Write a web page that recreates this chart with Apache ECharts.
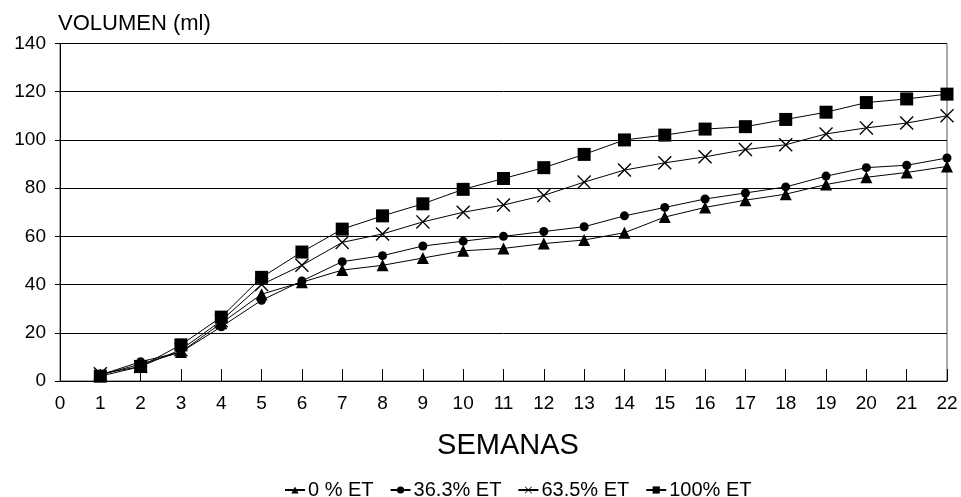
<!DOCTYPE html>
<html>
<head>
<meta charset="utf-8">
<script src="https://cdn.jsdelivr.net/npm/echarts@6/dist/echarts.min.js"></script>
<style>
  html, body { margin: 0; padding: 0; background: #fff; }
  #chart { width: 961px; height: 497px; }
</style>
</head>
<body>
<div id="chart"></div>
<script>
// Weeks of the trial
const weeks = [1, 2, 3, 4, 5, 6, 7, 8, 9, 10, 11, 12, 13, 14, 15, 16, 17, 18, 19, 20, 21, 22];

// Cumulative volume (ml) per irrigation treatment
const et0   = [2.5, 7, 12, 24, 36, 41, 46, 48, 51, 54, 55, 57, 58.5, 61.5, 68, 72, 75, 77.5, 81.5, 84.5, 86.5, 89];
const et363 = [2.5, 8, 12, 22.5, 33.5, 41.5, 49.5, 52, 56, 58, 60, 62, 64, 68.5, 72, 75.5, 78, 80.5, 85, 88.5, 89.5, 92.5];
const et635 = [3, 6, 13, 25, 40, 48, 57.5, 61, 66, 70, 73, 77, 82.5, 87.5, 90.5, 93, 96, 98, 102.5, 105, 107, 110];
const et100 = [2, 6, 15, 26.5, 43, 53.5, 63, 68.5, 73.5, 79.5, 84, 88.5, 94, 100, 102, 104.5, 105.5, 108.5, 111.5, 115.5, 117, 119];

const seriesNames = ['0 % ET', '36.3% ET', '63.5% ET', '100% ET'];

// Thin "x" marker drawn as a filled outline
const crossPath = 'path://M0,0.7 L0.7,0 L5,4.3 L9.3,0 L10,0.7 L5.7,5 L10,9.3 L9.3,10 L5,5.7 L0.7,10 L0,9.3 L4.3,5 Z';

const FONT = '"Liberation Sans", Arial, sans-serif';

function pairs(values) {
  return weeks.map((w, i) => [w, values[i]]);
}

function lineSeries(name, values, symbol, size) {
  return {
    name: name,
    type: 'line',
    data: pairs(values),
    symbol: symbol,
    symbolSize: size,
    showSymbol: true,
    lineStyle: { color: '#000', width: 1 },
    itemStyle: { color: '#000', borderWidth: 0 },
    emphasis: { disabled: true },
    animation: false
  };
}

const chart = echarts.init(document.getElementById('chart'), null, { renderer: 'canvas' });

chart.setOption({
  backgroundColor: '#fff',
  animation: false,
  textStyle: { fontFamily: FONT, color: '#000' },
  grid: {
    left: 60, right: 14, top: 43.5, bottom: 116,
    show: true, borderColor: '#555', borderWidth: 1
  },
  title: [{
    text: 'SEMANAS',
    left: 503, top: 426, textAlign: 'center',
    textStyle: { fontFamily: FONT, fontSize: 29, fontWeight: 'normal', color: '#000' }
  }],
  legend: {
    left: 279, top: 475,
    itemWidth: 20, itemHeight: 9, itemGap: 16,
    textStyle: { fontFamily: FONT, fontSize: 20, color: '#000', padding: [0, 0, 0, -2] },
    data: seriesNames
  },
  xAxis: {
    type: 'value',
    min: 0, max: 22, interval: 1,
    axisLine: { show: true, lineStyle: { color: '#000', width: 1 } },
    axisTick: { show: true, inside: true, length: 12, lineStyle: { color: '#000' } },
    axisLabel: { fontFamily: FONT, fontSize: 19, color: '#000', margin: 13 },
    splitLine: { show: false }
  },
  yAxis: {
    type: 'value',
    min: 0, max: 140, interval: 20,
    name: 'VOLUMEN (ml)',
    nameLocation: 'end',
    nameGap: 9,
    nameTextStyle: { fontFamily: FONT, fontSize: 22, color: '#000', align: 'left', padding: [0, 0, 0, -2] },
    axisLine: { show: true, lineStyle: { color: '#000', width: 1 } },
    axisTick: { show: true, length: 5, lineStyle: { color: '#000' } },
    axisLabel: { fontFamily: FONT, fontSize: 19, color: '#000', margin: 14 },
    splitLine: { show: true, lineStyle: { color: '#000', width: 1 } }
  },
  series: [
    lineSeries(seriesNames[0], et0, 'triangle', 12),
    lineSeries(seriesNames[1], et363, 'circle', 9),
    lineSeries(seriesNames[2], et635, crossPath, 14),
    lineSeries(seriesNames[3], et100, 'rect', 13)
  ]
});
</script>
</body>
</html>
